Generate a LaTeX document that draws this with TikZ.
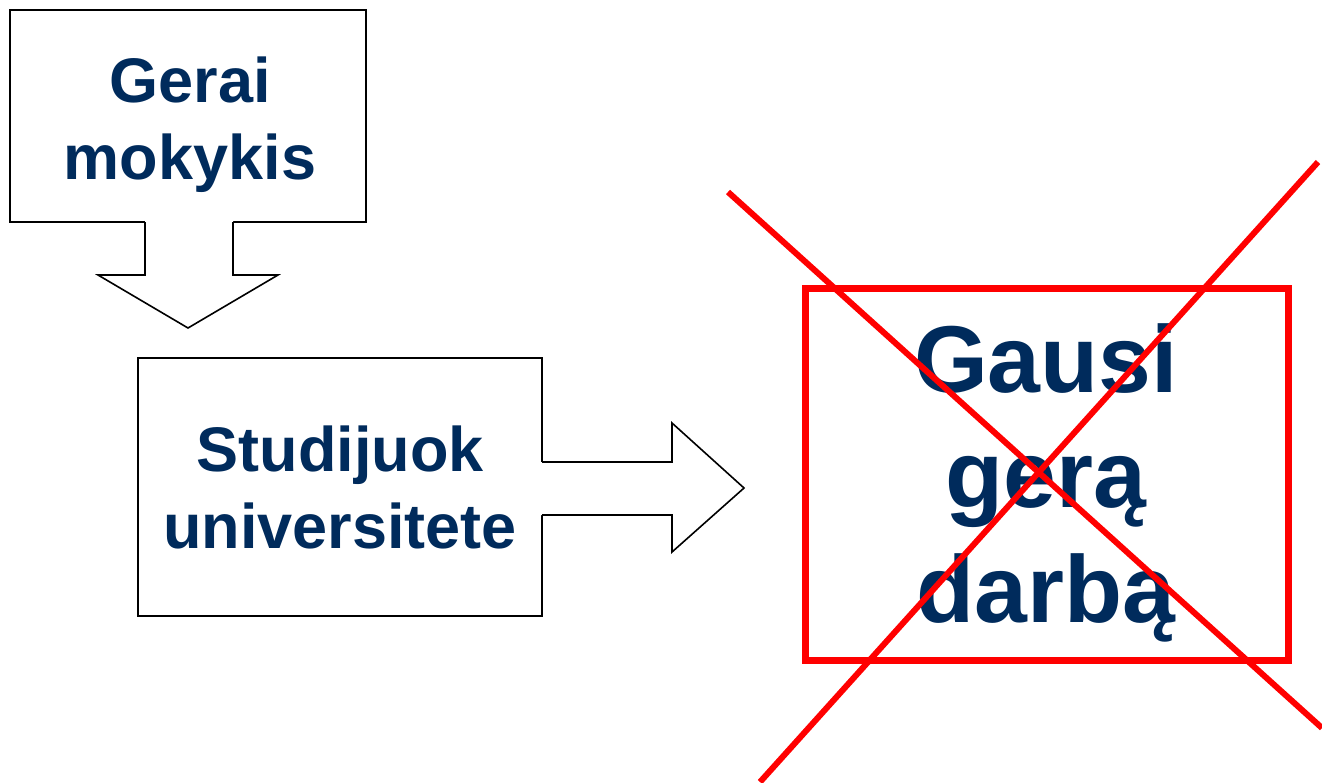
\documentclass[tikz,border=0pt]{standalone}
\usepackage{fontspec}
\setmainfont{Liberation Sans}
\usetikzlibrary{calc}
\definecolor{navy}{RGB}{0,43,92}
\definecolor{crossred}{RGB}{255,0,0}

\begin{document}
\begin{tikzpicture}[x=1pt, y=-1pt,
    box/.style={draw, line width=2pt, fill=white, align=center, inner sep=0pt, text=navy, font=\fontsize{63}{77}\selectfont\bfseries},
    blockarrow/.style={draw, line width=1.6pt, line join=miter},
    goal/.style={draw=crossred, line width=7pt, align=center, inner sep=0pt, text=navy, font=\fontsize{95}{115}\selectfont\bfseries},
    cross/.style={crossred, line width=6pt}]
        \useasboundingbox (0,0) rectangle (1322,782);
        \node[box, minimum width=356pt, minimum height=212pt] (school) at (188,116) {};
        \node[text=navy, align=center, font=\fontsize{63}{77}\selectfont\bfseries] (schooltext) at (190,125) {Gerai \\ mokykis};
        \node[box, minimum width=404pt, minimum height=258pt] (uni) at (340,487) {Studijuok \\ universitete};
        \node[goal, minimum width=483pt, minimum height=372pt] (job) at (1046.5,474) {};
        \node[text=navy, align=center, font=\fontsize{95}{115}\selectfont\bfseries] (jobtext) at (1046,483) {Gausi \\ gerą \\ darbą};
        % down arrow (open end joins the box)
        \fill[white] (145,219) -- (145,275) -- (98,275) -- (188,328) -- (278,275) -- (233,275) -- (233,219) -- cycle;
        \draw[blockarrow] (145,222) -- (145,275) -- (98,275) -- (188,328) -- (278,275) -- (233,275) -- (233,222);
        % right arrow
        \fill[white] (539,462) -- (672,462) -- (672,423) -- (744,488) -- (672,552) -- (672,515) -- (539,515) -- cycle;
        \draw[blockarrow] (542,462) -- (672,462) -- (672,423) -- (744,488) -- (672,552) -- (672,515) -- (542,515);
        % the cross
        \coordinate (c1) at (728,192);
        \coordinate (c2) at (1322,728);
        \coordinate (c3) at (1318,162);
        \coordinate (c4) at (760,782);
        \draw[cross] (c1) -- (c2);
        \draw[cross] (c3) -- (c4);
    \end{tikzpicture}
\end{document}
